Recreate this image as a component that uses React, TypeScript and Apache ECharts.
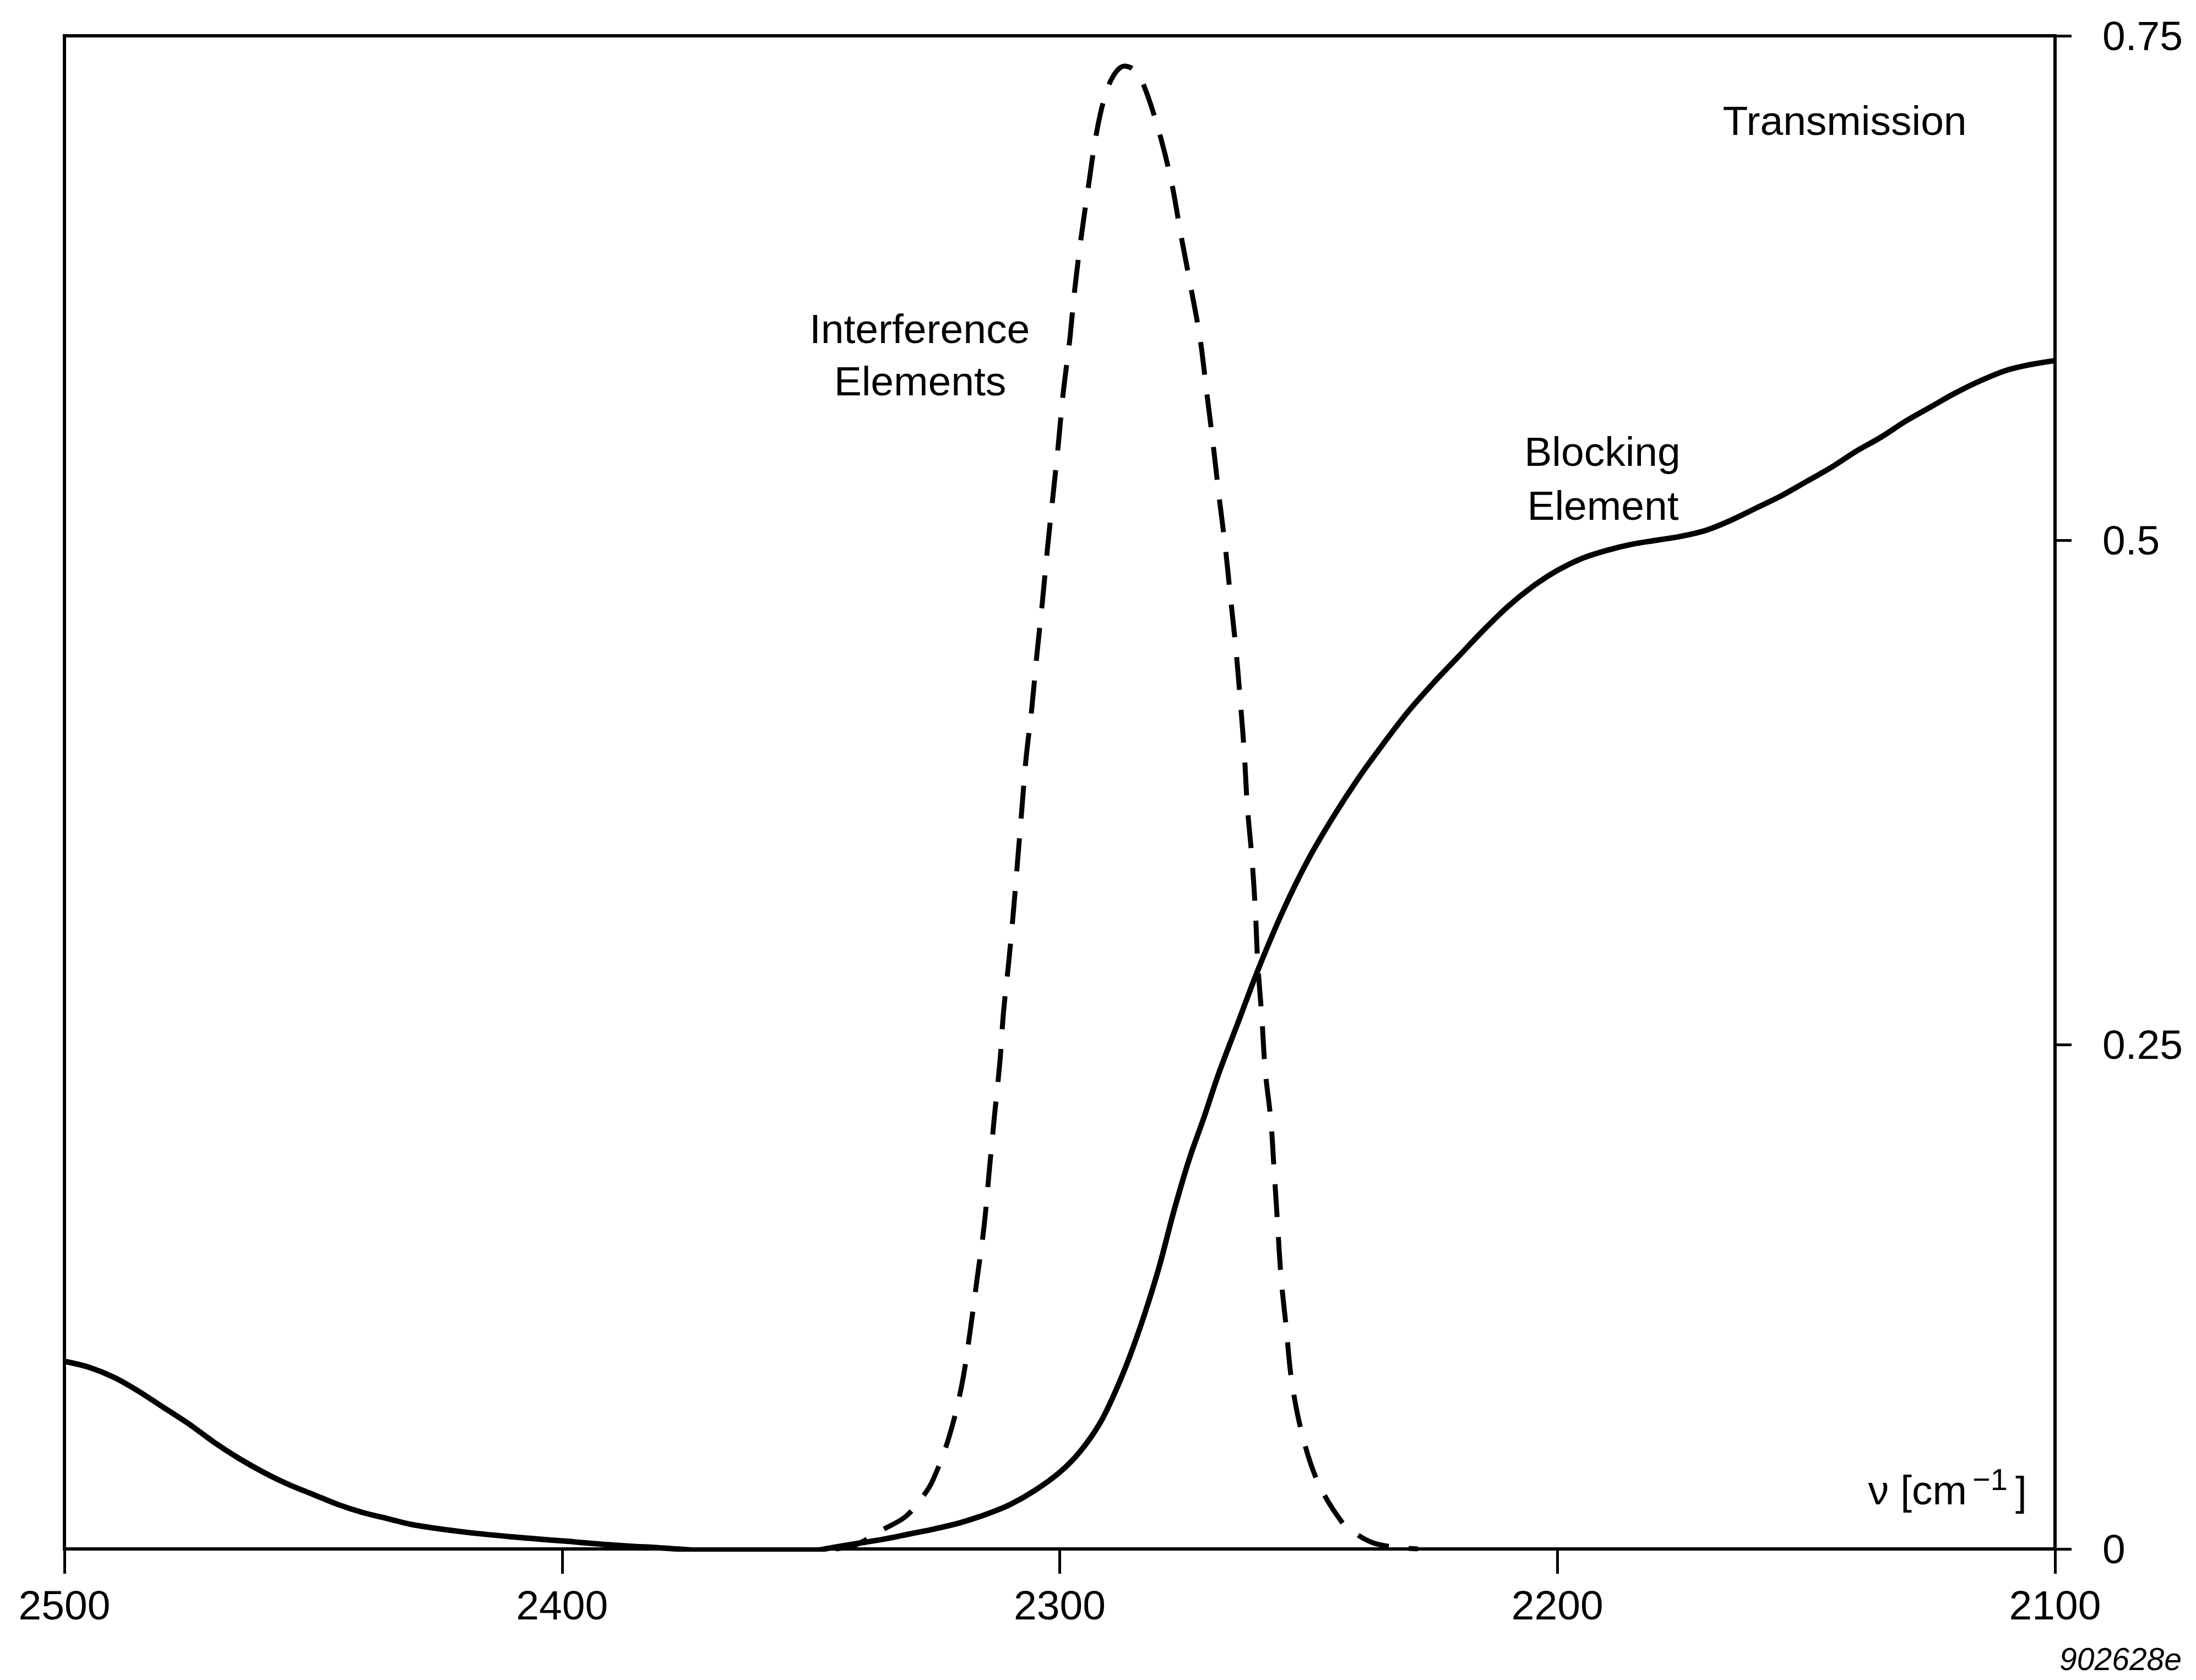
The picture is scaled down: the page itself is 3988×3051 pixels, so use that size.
import React, { useEffect, useRef } from "react";
import * as echarts from "echarts";

// Wavenumber axis (cm^-1), drawn high-to-low from left to right
const X_MIN = 2100;
const X_MAX = 2500;
const X_STEP = 100;
// Transmission axis
const Y_MIN = 0;
const Y_MAX = 0.75;
const Y_STEP = 0.25;

// Blocking element transmission curve (solid)
const blockingWavenumber = [
  2500, 2495, 2490, 2485, 2480, 2475, 2470, 2465, 2460, 2455, 2450, 2445, 2440, 2435, 2430,
  2420, 2410, 2400, 2390, 2380, 2370, 2360, 2350, 2345, 2340, 2335, 2330, 2325, 2320, 2315,
  2310, 2305, 2300, 2296, 2292, 2289, 2286, 2283, 2280, 2277, 2274, 2271, 2268, 2264, 2260,
  2255, 2250, 2245, 2240, 2235, 2230, 2225, 2220, 2215, 2210, 2205, 2200, 2195, 2190, 2185,
  2180, 2175, 2170, 2165, 2160, 2155, 2150, 2145, 2140, 2135, 2130, 2125, 2120, 2115, 2110,
  2105, 2100,
];
const blockingTransmission = [
  0.093, 0.09, 0.085, 0.078, 0.07, 0.062, 0.053, 0.045, 0.038, 0.032, 0.027, 0.022, 0.018,
  0.015, 0.012, 0.0085, 0.006, 0.004, 0.002, 0.0005, -0.001, -0.0015, -0.001, 0.001, 0.003,
  0.005, 0.0075, 0.01, 0.013, 0.017, 0.022, 0.029, 0.038, 0.048, 0.062, 0.077, 0.095, 0.116,
  0.14, 0.168, 0.193, 0.214, 0.236, 0.262, 0.288, 0.317, 0.342, 0.363, 0.382, 0.399, 0.415,
  0.429, 0.442, 0.455, 0.467, 0.477, 0.485, 0.491, 0.495, 0.498, 0.5, 0.502, 0.505, 0.51,
  0.516, 0.522, 0.529, 0.536, 0.544, 0.551, 0.559, 0.566, 0.573, 0.579, 0.584, 0.587, 0.589,
];

// Interference elements transmission band (dashed)
const interferenceWavenumber = [
  2345, 2341, 2336, 2331, 2327.5, 2325.5, 2322.3, 2319.7, 2318, 2316.6, 2315.2, 2314.1, 2313.1,
  2312, 2311.3, 2310.2, 2309.2, 2308.4, 2307.6, 2306.8, 2305.6, 2304.6, 2303.5, 2302.5, 2301.4,
  2300.3, 2299.3, 2298, 2297, 2295.7, 2294.2, 2292.6, 2290.8, 2289, 2287, 2285, 2283.2, 2280,
  2277.5, 2275.7, 2273.7, 2271.8, 2270.5, 2269.2, 2268, 2266.7, 2265.7, 2264.6, 2263.7, 2262.9,
  2262.3, 2261.4, 2260.7, 2260.2, 2259.4, 2258.7, 2257.6, 2256.9, 2256.2, 2255.5, 2254.5,
  2253.4, 2251.3, 2248.1, 2243.2, 2240.4, 2237, 2233, 2228,
];
const interferenceTransmission = [
  0, 0.002, 0.009, 0.016, 0.026, 0.034, 0.055, 0.081, 0.108, 0.134, 0.16, 0.189, 0.215, 0.242,
  0.266, 0.292, 0.319, 0.343, 0.367, 0.391, 0.417, 0.443, 0.469, 0.495, 0.521, 0.547, 0.573,
  0.599, 0.624, 0.65, 0.676, 0.702, 0.721, 0.731, 0.735, 0.733, 0.726, 0.702, 0.677, 0.652,
  0.626, 0.6, 0.574, 0.548, 0.522, 0.496, 0.472, 0.446, 0.42, 0.394, 0.368, 0.343, 0.317, 0.29,
  0.264, 0.237, 0.213, 0.187, 0.16, 0.134, 0.11, 0.0835, 0.057, 0.033, 0.013, 0.0074, 0.003,
  0.001, 0,
];

const FONT = "'Liberation Sans', Arial, Helvetica, sans-serif";
const INK = "#000";

function pairs(xs: number[], ys: number[]) {
  return xs.map((x, i) => [x, ys[i]]);
}

export default function App() {
  const ref = useRef<HTMLDivElement>(null);

  useEffect(() => {
    if (!ref.current) return;
    const chart = echarts.init(ref.current, undefined, { renderer: "svg" });

    const label = (text: string, x: number, y: number, extra: any = {}) => ({
      type: "text",
      x,
      y,
      silent: true,
      style: {
        text,
        fontFamily: FONT,
        fontSize: 75,
        fill: INK,
        align: "center",
        verticalAlign: "middle",
        ...extra,
      },
    });

    chart.setOption({
      animation: false,
      backgroundColor: "#fff",
      grid: {
        left: 117,
        right: 256,
        top: 65,
        bottom: 238,
        show: true,
        borderColor: INK,
        borderWidth: 6,
        containLabel: false,
      },
      xAxis: {
        type: "value",
        min: X_MIN,
        max: X_MAX,
        interval: X_STEP,
        inverse: true,
        position: "bottom",
        axisLine: { show: true, lineStyle: { color: INK, width: 6 } },
        axisTick: { show: true, inside: false, length: 45, lineStyle: { color: INK, width: 5 } },
        axisLabel: {
          fontSize: 75,
          color: INK,
          fontFamily: FONT,
          margin: 64,
          formatter: (v: number) => String(v),
        },
        splitLine: { show: false },
      },
      yAxis: {
        type: "value",
        min: Y_MIN,
        max: Y_MAX,
        interval: Y_STEP,
        position: "right",
        axisLine: { show: true, lineStyle: { color: INK, width: 6 } },
        axisTick: { show: true, inside: false, length: 30, lineStyle: { color: INK, width: 5 } },
        axisLabel: {
          fontSize: 75,
          color: INK,
          fontFamily: FONT,
          margin: 86,
          formatter: (v: number) => String(v),
        },
        splitLine: { show: false },
      },
      series: [
        {
          name: "Blocking Element",
          type: "line",
          data: pairs(blockingWavenumber, blockingTransmission),
          showSymbol: false,
          smooth: 0.35,
          lineStyle: { color: INK, width: 10 },
        },
        {
          name: "Interference Elements",
          type: "line",
          data: pairs(interferenceWavenumber, interferenceTransmission),
          showSymbol: false,
          smooth: 0.35,
          lineStyle: { color: INK, width: 9, type: [60, 36] },
        },
      ],
      graphic: [
        label("Transmission", 3350, 219),
        label("Interference", 1670, 597),
        label("Elements", 1671, 692),
        label("Blocking", 2910, 820),
        label("Element", 2911, 918),
        label("ν [cm", 3572, 2706, { align: "right" }),
        label("−1", 3582, 2686, { align: "left", fontSize: 56 }),
        label("]", 3660, 2708, { align: "left" }),
        label("902628e", 3962, 3013, { align: "right", fontSize: 57, fontStyle: "italic" }),
      ],
    });

    return () => chart.dispose();
  }, []);

  return (
    <div
      ref={ref}
      style={{ position: "absolute", left: 0, top: 0, width: 3988, height: 3051, background: "#fff" }}
    />
  );
}
